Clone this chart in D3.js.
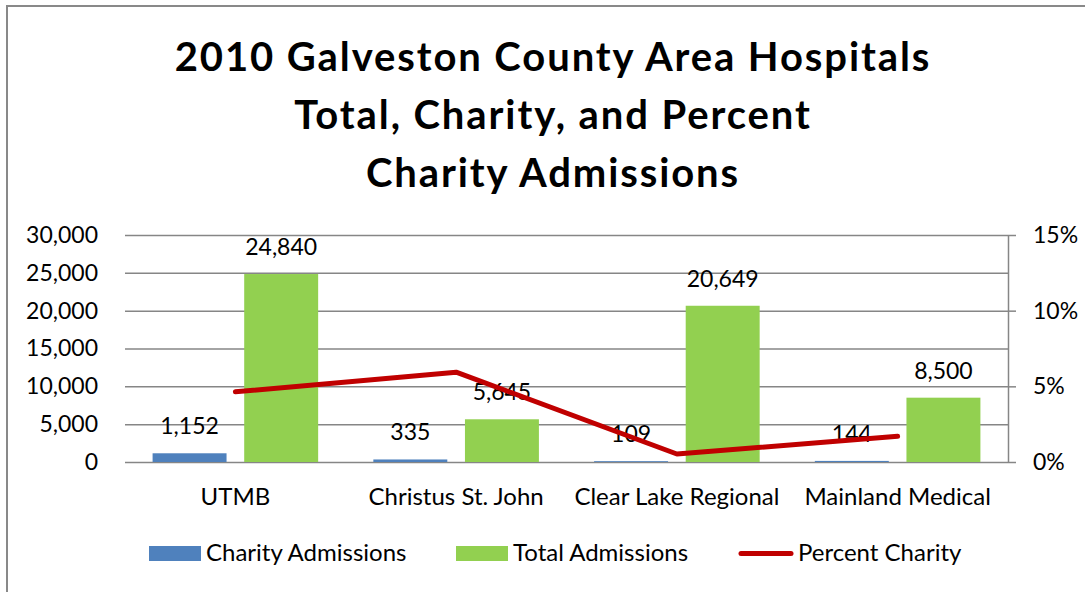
<!DOCTYPE html>
<html>
<head>
<meta charset="utf-8">
<script src="https://cdn.jsdelivr.net/npm/d3@7"></script>
<style>
  body { margin: 0; background: #fff; }
  svg { display: block; }
</style>
</head>
<body>
<div class="main"></div>
<script>
const width = 1085;
const height = 592;
const margin = ({top: 235, right: 77, bottom: 130, left: 125});

// data
const hospitals = ['UTMB', 'Christus St. John', 'Clear Lake Regional', 'Mainland Medical'];
const charity = [1152, 335, 109, 144];
const total = [24840, 5645, 20649, 8500];
const percent = charity.map((c, i) => c / total[i]);
const leftTicks = [0, 5000, 10000, 15000, 20000, 25000, 30000];
const rightTicks = [0, 0.05, 0.10, 0.15];
const titleLines = ['2010 Galveston County Area Hospitals', 'Total, Charity, and Percent', 'Charity Admissions'];

const blue = '#4F81BD';
const green = '#92D050';
const red = '#C00000';
const grid = '#868686';
const font = 'Lato, sans-serif';
const textSize = '24px';
const numSize = '23px';

const rows = hospitals.map((h, i) => ({name: h, charity: charity[i], total: total[i], pct: percent[i]}));

const svg = d3.select('.main')
  .append('svg')
  .attr('width', width)
  .attr('height', height)
  .style('font-family', font);

// chart area border (runs off the right and bottom edge)
svg.append('rect')
  .attr('x', 7).attr('y', 6)
  .attr('width', width + 20).attr('height', height + 20)
  .attr('fill', '#fff')
  .attr('stroke', '#898989')
  .attr('stroke-width', 2);

// title
svg.append('g')
  .attr('text-anchor', 'middle')
  .style('font-weight', 700)
  .style('font-size', '40px')
  .style('letter-spacing', '1.9px')
  .selectAll('text')
  .data(titleLines)
  .enter()
  .append('text')
  .attr('x', 553)
  .attr('y', (d, i) => 71 + i * 58)
  .text(d => d);

// scales
const x = d3.scaleBand()
  .domain(hospitals)
  .range([margin.left, width - margin.right]);

const y = d3.scaleLinear()
  .domain([0, 30000])
  .range([height - margin.bottom, margin.top]);

const y2 = d3.scaleLinear()
  .domain([0, 0.15])
  .range([height - margin.bottom, margin.top]);

const bw = x.bandwidth() * 0.335;
const inner = x.bandwidth() * 0.08;

// gridlines
svg.append('g')
  .attr('transform', `translate(${margin.left}, 0)`)
  .call(d3.axisLeft(y).tickValues(leftTicks).tickSize(-(width - margin.left - margin.right)).tickFormat(''))
  .call(g => g.select('.domain').remove())
  .call(g => g.selectAll('line').attr('stroke', grid).attr('stroke-width', 1.5));

// left axis labels
svg.append('g')
  .attr('transform', `translate(${margin.left}, 0)`)
  .call(d3.axisLeft(y).tickValues(leftTicks).tickSize(0).tickPadding(27).tickFormat(d3.format(',')))
  .call(g => g.select('.domain').remove())
  .call(g => g.selectAll('text').style('font-family', font).style('font-size', numSize).attr('fill', '#000'));

// right axis
svg.append('g')
  .attr('transform', `translate(${width - margin.right}, 0)`)
  .call(d3.axisRight(y2).tickValues(rightTicks).tickSize(8).tickPadding(17).tickSizeOuter(0).tickFormat(d3.format('.0%')))
  .call(g => g.select('.domain').attr('stroke', grid).attr('stroke-width', 1.5))
  .call(g => g.selectAll('line').attr('stroke', grid).attr('stroke-width', 1.5))
  .call(g => g.selectAll('text').style('font-family', font).style('font-size', numSize).attr('fill', '#000'));

// bars
const groups = svg.append('g')
  .selectAll('g')
  .data(rows)
  .enter()
  .append('g')
  .attr('transform', d => `translate(${x(d.name) + x.bandwidth() / 2}, 0)`);

groups.append('rect')
  .attr('x', -inner / 2 - bw)
  .attr('y', d => y(d.charity))
  .attr('width', bw)
  .attr('height', d => y(0) - y(d.charity))
  .attr('fill', blue);

groups.append('rect')
  .attr('x', inner / 2)
  .attr('y', d => y(d.total))
  .attr('width', bw)
  .attr('height', d => y(0) - y(d.total))
  .attr('fill', green);

// percent line
const line = d3.line()
  .x(d => x(d.name) + x.bandwidth() / 2)
  .y(d => y2(d.pct));

svg.append('path')
  .datum(rows)
  .attr('d', line)
  .attr('fill', 'none')
  .attr('stroke', red)
  .attr('stroke-width', 5)
  .attr('stroke-linecap', 'round')
  .attr('stroke-linejoin', 'round');

// value labels
groups.append('text')
  .attr('text-anchor', 'middle')
  .attr('x', -inner / 2 - bw / 2)
  .attr('y', d => y(d.charity) - 19)
  .style('font-size', numSize)
  .text(d => d3.format(',')(d.charity));

groups.append('text')
  .attr('text-anchor', 'middle')
  .attr('x', inner / 2 + bw / 2)
  .attr('y', d => y(d.total) - 19)
  .style('font-size', numSize)
  .text(d => d3.format(',')(d.total));

// category axis labels
svg.append('g')
  .attr('transform', `translate(0, ${height - margin.bottom})`)
  .call(d3.axisBottom(x).tickSize(0).tickPadding(26))
  .call(g => g.select('.domain').remove())
  .call(g => g.selectAll('text').style('font-family', font).style('font-size', textSize).attr('fill', '#000'));

// legend
const legend = svg.append('g').style('font-size', textSize);
const items = [
  {label: 'Charity Admissions', type: 'rect', color: blue, x0: 149, tx: 206},
  {label: 'Total Admissions', type: 'rect', color: green, x0: 456, tx: 513},
  {label: 'Percent Charity', type: 'line', color: red, x0: 739, tx: 798}
];
items.forEach(it => {
  if (it.type === 'rect') {
    legend.append('rect')
      .attr('x', it.x0).attr('y', 546)
      .attr('width', 52).attr('height', 15)
      .attr('fill', it.color);
  } else {
    legend.append('line')
      .attr('x1', it.x0 + 2).attr('x2', it.x0 + 52)
      .attr('y1', 553.5).attr('y2', 553.5)
      .attr('stroke', it.color)
      .attr('stroke-width', 5)
      .attr('stroke-linecap', 'round');
  }
  legend.append('text')
    .attr('x', it.tx)
    .attr('y', 561)
    .text(it.label);
});
</script>
</body>
</html>
